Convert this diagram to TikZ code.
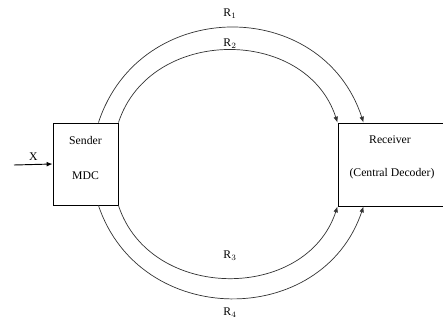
\documentclass[tikz,border=0pt]{standalone}
\usepackage{fontspec}
\setmainfont{Liberation Serif}
\usepackage{tikz}
\usetikzlibrary{arrows.meta}

\begin{document}
\begin{tikzpicture}[x=0.03cm, y=-0.03cm, >={Latex[length=5pt,width=4pt]}]
            \useasboundingbox (0,0) rectangle (443,322);
            \tikzset{block/.style={draw, rectangle, thick, inner sep=0pt},
                     link/.style={->, semithick, draw=black!80}}
            \node [block, minimum width=1.95cm, minimum height=2.46cm] (sender) at (85.5,164) {};
            \node [block, minimum width=3.3cm, minimum height=2.49cm] (receiver) at (393,164.5) {};
            \node at (85.5,140) {Sender};
            \node at (85.5,176) {MDC};
            \node at (390,140) {Receiver};
            \node at (392,174) {(Central Decoder)};
            \coordinate (input) at (14,165);

            \draw[->, thick] (input) -- (sender.west) node [midway, above] {X};

            % upper paths
            \draw[link] ([xshift=-0.6cm]sender.north east) .. controls (140,-4) and (322,-4) .. ([xshift=0.78cm]receiver.north west);
            \draw[link] (sender.north east) .. controls (150,26) and (306,26) .. (receiver.north west);
            % lower paths
            \draw[link] (sender.south east) .. controls (150,302) and (306,302) .. (receiver.south west);
            \draw[link] ([xshift=-0.6cm]sender.south east) .. controls (140,329) and (322,329) .. ([xshift=0.78cm]receiver.south west);

            \node at (230,14) {R$_1$};
            \node at (230,44) {R$_2$};
            \node at (230,256) {R$_3$};
            \node at (230,313) {R$_4$};
        \end{tikzpicture}
\end{document}
